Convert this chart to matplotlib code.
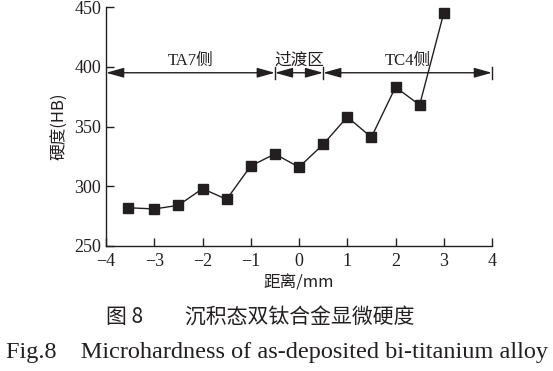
import matplotlib.pyplot as plt

# distance from the interface (mm) and hardness (HB)
distance = [-3.55, -3.0, -2.5, -2.0, -1.5, -1.0, -0.5, 0.0, 0.5, 1.0, 1.5, 2.0, 2.5, 3.0]
hardness = [282, 281, 284, 298, 289, 317, 327, 316, 335, 358, 341, 383, 368, 445]

# zones marked with double arrows above the data
zone_names = ['TA7侧', '过渡区', 'TC4侧']
zone_edges = [-4.0, -0.5, 0.5, 4.0]
zone_level = 395

x_ticks = [-4, -3, -2, -1, 0, 1, 2, 3, 4]
y_ticks = [250, 300, 350, 400, 450]

serif = ['Liberation Serif', 'Noto Sans CJK SC']
cjk = ['Noto Sans CJK SC', 'Liberation Serif']
ink = '#231f20'


def main():
    fig = plt.figure(figsize=(5.53, 3.71), dpi=100)
    ax = fig.add_axes([0.1917, 0.337, 0.698, 0.644])

    ax.plot(distance, hardness, color=ink, lw=1.0, marker='s', markersize=6.8,
            markerfacecolor=ink, markeredgecolor=ink, zorder=3)

    ax.set_xlim(-4, 4)
    ax.set_ylim(250, 450)
    ax.set_xticks(x_ticks)
    ax.set_yticks(y_ticks)
    ax.set_xticklabels([f'\u2212{abs(t)}' if t < 0 else str(t) for t in x_ticks],
                       family=serif, fontsize=13)
    ax.set_yticklabels([str(t) for t in y_ticks], family=serif, fontsize=13)
    ax.tick_params(direction='in', length=6, width=1.0, color=ink, labelcolor=ink)
    ax.tick_params(axis='x', pad=5)
    ax.spines['top'].set_visible(False)
    ax.spines['right'].set_visible(False)
    for side in ('left', 'bottom'):
        ax.spines[side].set_color(ink)
        ax.spines[side].set_linewidth(1.0)

    # zone arrows and labels
    for name, x0, x1 in zip(zone_names, zone_edges[:-1], zone_edges[1:]):
        ax.annotate('', xy=(x0, zone_level), xytext=(x1, zone_level),
                    arrowprops=dict(arrowstyle='<|-|>,head_length=0.9,head_width=0.25',
                                    color=ink, lw=1.0,
                                    mutation_scale=12, shrinkA=0, shrinkB=0))
        ax.text((x0 + x1) / 2, zone_level + 3, name, ha='center', va='bottom',
                family=serif if name[0].isascii() else cjk, fontsize=12, color=ink)
    for x in zone_edges[1:]:
        ax.plot([x, x], [zone_level - 5, zone_level + 5], color=ink, lw=1.0,
                clip_on=False)

    ax.set_xlabel('距离/mm', family=cjk, fontsize=12, color=ink, labelpad=3)
    ax.set_ylabel('硬度(HB)', family=cjk, fontsize=12, color=ink, labelpad=4)

    fig.text(0.47, 0.143, '图 8\u2003\u2003沉积态双钛合金显微硬度', ha='center', va='center',
             family=cjk, fontsize=15, color=ink)
    fig.text(0.5, 0.05, 'Fig.8\u2003Microhardness of as-deposited bi-titanium alloy',
             ha='center', va='center', family=serif, fontsize=17.5, color=ink)

    fig.savefig('out.png', dpi=100)


if __name__ == "__main__":
    main()
